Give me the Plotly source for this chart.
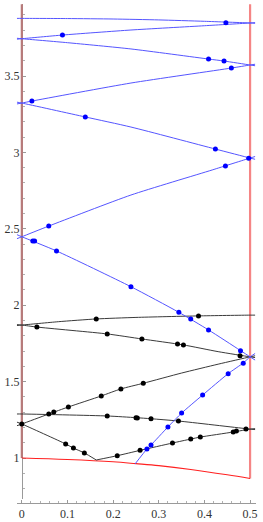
import plotly.graph_objects as go

# ---------------- data ----------------
# blue bands
b1_x = [-0.011, 0, 0.1, 0.2, 0.3, 0.4, 0.5, 0.511]
b1_y = [3.877, 3.877, 3.876, 3.873, 3.867, 3.858, 3.847, 3.845]
b2_x = [-0.011, 0, 0.089, 0.239, 0.4, 0.5, 0.511]
b2_y = [3.741, 3.744, 3.768, 3.801, 3.829, 3.847, 3.849]
b3_x = [-0.011, 0, 0.1, 0.239, 0.409, 0.443, 0.5, 0.511]
b3_y = [3.747, 3.744, 3.718, 3.677, 3.611, 3.598, 3.572, 3.567]
b4_x = [-0.011, 0, 0.022, 0.239, 0.459, 0.5, 0.511]
b4_y = [3.317, 3.323, 3.336, 3.454, 3.552, 3.572, 3.577]
b5_x = [-0.011, 0, 0.139, 0.239, 0.424, 0.5, 0.511]
b5_y = [3.329, 3.323, 3.232, 3.166, 3.022, 2.963, 2.955]
b6_x = [-0.011, 0, 0.059, 0.239, 0.417, 0.5, 0.511]
b6_y = [2.435, 2.448, 2.518, 2.721, 2.885, 2.963, 2.973]
b7_x = [-0.011, 0, 0.076, 0.239, 0.343, 0.409, 0.478, 0.5, 0.511]
b7_y = [2.462, 2.448, 2.355, 2.121, 1.955, 1.838, 1.705, 1.662, 1.641]
b8_x = [0.248, 0.274, 0.283, 0.320, 0.350, 0.396, 0.452, 0.485, 0.5, 0.511]
b8_y = [0.961, 1.059, 1.085, 1.203, 1.294, 1.412, 1.552, 1.622, 1.662, 1.684]

# black bands
k1_x = [-0.011, 0, 0.08, 0.163, 0.25, 0.387, 0.5, 0.511]
k1_y = [1.867, 1.870, 1.892, 1.910, 1.920, 1.930, 1.935, 1.935]
k2_x = [-0.011, 0, 0.033, 0.187, 0.263, 0.354, 0.43, 0.5, 0.511]
k2_y = [1.873, 1.870, 1.857, 1.812, 1.779, 1.740, 1.696, 1.662, 1.657]
k3_x = [-0.011, 0, 0.059, 0.102, 0.174, 0.217, 0.266, 0.35, 0.43, 0.5, 0.511]
k3_y = [1.211, 1.2225, 1.288, 1.334, 1.406, 1.452, 1.489, 1.556, 1.614, 1.662, 1.669]
k4_x = [-0.011, 0, 0.187, 0.25, 0.283, 0.343, 0.491, 0.5, 0.511]
k4_y = [1.288, 1.288, 1.275, 1.264, 1.257, 1.242, 1.192, 1.189, 1.186]
k5_x = [0.163, 0.209, 0.259, 0.330, 0.370, 0.391, 0.463, 0.5, 0.511]
k5_y = [0.987, 1.015, 1.050, 1.098, 1.124, 1.137, 1.170, 1.189, 1.192]
k6_x = [-0.011, 0, 0.096, 0.113, 0.137, 0.163]
k6_y = [1.235, 1.2225, 1.092, 1.065, 1.033, 0.987]

# sample points
blue_dot_x = [0.447, 0.089, 0.409, 0.443, 0.022, 0.459, 0.139, 0.424, 0.497,
              0.059, 0.446, 0.024, 0.028, 0.076, 0.239, 0.344, 0.370, 0.409, 0.479,
              0.274, 0.283, 0.320, 0.350, 0.396, 0.452, 0.485]
blue_dot_y = [3.849, 3.768, 3.611, 3.598, 3.336, 3.552, 3.232, 3.022, 2.962,
              2.518, 2.911, 2.420, 2.420, 2.355, 2.121, 1.954, 1.910, 1.838, 1.702,
              1.059, 1.085, 1.203, 1.294, 1.412, 1.552, 1.620]
black_dot_x = [0.0, 0.059, 0.070, 0.102, 0.174, 0.217, 0.266,
               0.096, 0.113, 0.137,
               0.187, 0.250, 0.253, 0.283, 0.343, 0.491,
               0.209, 0.259, 0.330, 0.370, 0.391, 0.463, 0.470,
               0.033, 0.187, 0.263, 0.341, 0.354, 0.478,
               0.163, 0.387]
black_dot_y = [1.2225, 1.288, 1.301, 1.334, 1.406, 1.452, 1.489,
               1.092, 1.065, 1.033,
               1.275, 1.264, 1.262, 1.257, 1.242, 1.190,
               1.015, 1.050, 1.098, 1.124, 1.137, 1.170, 1.177,
               1.857, 1.812, 1.779, 1.746, 1.740, 1.6695,
               1.910, 1.930]

# region boundary (red)
red_left_x = [0, 0]
red_left_y = [1.0, 3.97]
red_bottom_x = [0, 0.1, 0.2, 0.25, 0.3, 0.37, 0.45, 0.5]
red_bottom_y = [1.0, 0.99, 0.975, 0.963, 0.95, 0.925, 0.89, 0.866]
red_right_x = [0.5, 0.5]
red_right_y = [0.866, 3.97]

x_tick_vals = [0, 0.1, 0.2, 0.3, 0.4, 0.5]
x_tick_text = ["0", "0.1", "0.2", "0.3", "0.4", "0.5"]
y_tick_vals = [1, 1.5, 2, 2.5, 3, 3.5]
y_tick_text = ["1", "1.5", "2", "2.5", "3", "3.5"]

# ---------------- figure ----------------
W, H = 263, 522
fig = go.Figure()

BLUE_LINE = "#5555ff"
BLACK_LINE = "#3a3a3a"

fig.add_trace(go.Scatter(x=red_left_x, y=red_left_y, mode="lines",
                         line=dict(color="#b87a7a", width=2.2)))
fig.add_trace(go.Scatter(x=red_right_x, y=red_right_y, mode="lines",
                         line=dict(color="#f58585", width=2.2)))
fig.add_trace(go.Scatter(x=red_bottom_x, y=red_bottom_y, mode="lines",
                         line=dict(color="#ff2020", width=1.1, shape="spline")))

for xs, ys in [(k1_x, k1_y), (k2_x, k2_y), (k3_x, k3_y), (k4_x, k4_y),
               (k5_x, k5_y), (k6_x, k6_y)]:
    fig.add_trace(go.Scatter(x=xs, y=ys, mode="lines",
                             line=dict(color=BLACK_LINE, width=1, shape="spline", smoothing=0.6)))

for xs, ys in [(b1_x, b1_y), (b2_x, b2_y), (b3_x, b3_y), (b4_x, b4_y),
               (b5_x, b5_y), (b6_x, b6_y), (b7_x, b7_y), (b8_x, b8_y)]:
    fig.add_trace(go.Scatter(x=xs, y=ys, mode="lines",
                             line=dict(color=BLUE_LINE, width=1, shape="spline", smoothing=0.6)))

fig.add_trace(go.Scatter(x=black_dot_x, y=black_dot_y, mode="markers",
                         marker=dict(color="black", size=5)))
fig.add_trace(go.Scatter(x=blue_dot_x, y=blue_dot_y, mode="markers",
                         marker=dict(color="#0000ff", size=5)))

# geometry: x=0 at px 22, 0.5 at px 252 ; y=1 at px 458, 152.8 px per unit
m_t, m_b = 4, 19
plot_h = H - m_t - m_b
x_lo_px, x_hi_px = 17, 258
fig.update_layout(
    width=W, height=H,
    margin=dict(l=0, r=0, t=m_t, b=m_b, pad=0),
    paper_bgcolor="white", plot_bgcolor="white",
    showlegend=False,
    font=dict(family="'Liberation Serif', 'DejaVu Serif', serif", size=12, color="#333333"),
    xaxis=dict(
        domain=[x_lo_px / W, x_hi_px / W],
        range=[(x_lo_px - 22) / 460, (x_hi_px - 22) / 460],
        anchor="free", position=0,
        showgrid=False, zeroline=False,
        showline=True, linecolor="#9a9a9a", linewidth=1, layer="below traces",
        tickmode="array", tickvals=x_tick_vals, ticktext=x_tick_text,
        ticks="inside", ticklen=3, tickcolor="#9a9a9a",
        minor=dict(tickmode="linear", tick0=0, dtick=0.02, ticks="inside",
                   ticklen=2, tickcolor="#b0b0b0"),
    ),
    yaxis=dict(
        domain=[4 / plot_h, 1],
        range=[1 - (499 - 458) / 152.8, 1 + (458 - 4) / 152.8],
        anchor="free", position=22 / W,
        showgrid=False, zeroline=False,
        showline=True, linecolor="#9a9a9a", linewidth=1, layer="below traces",
        tickmode="array", tickvals=y_tick_vals, ticktext=y_tick_text,
        ticks="inside", ticklen=3, tickcolor="#9a9a9a",
        minor=dict(tickmode="linear", tick0=0, dtick=0.1, ticks="inside",
                   ticklen=2, tickcolor="#b0b0b0"),
    ),
)

fig.write_html("out.html", config={"displayModeBar": False},
               post_script="document.body.style.margin='0px';")
